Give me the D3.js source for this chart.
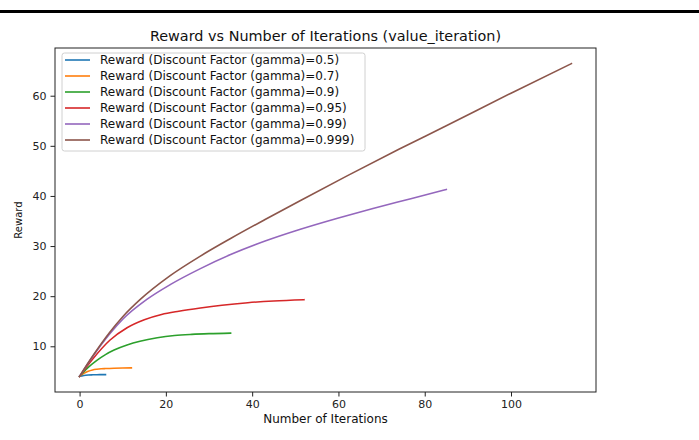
<!DOCTYPE html>
<html>
<head>
<meta charset="utf-8">
<script src="https://cdn.jsdelivr.net/npm/d3@7"></script>
<style>
  html, body { margin: 0; padding: 0; background: #fff; }
  svg { display: block; font-family: "DejaVu Sans", sans-serif; }
</style>
</head>
<body>
<svg id="chart" width="699" height="440"></svg>
<script>
// Reward per iteration for each discount factor
const gammas = ["0.5", "0.7", "0.9", "0.95", "0.99", "0.999"];
const colors = ["#1f77b4", "#ff7f0e", "#2ca02c", "#d62728", "#9467bd", "#8c564b"];

const iters05  = [0, 1, 2, 3, 4, 5, 6];
const reward05 = [4.0, 4.18, 4.27, 4.31, 4.33, 4.34, 4.35];

const iters07  = [0, 1, 2, 3, 4, 5, 6, 8, 10, 12];
const reward07 = [4.0, 4.6, 5.02, 5.28, 5.42, 5.51, 5.56, 5.63, 5.67, 5.69];

const iters09  = [0, 2, 4, 6, 8, 11, 14, 18, 22, 26, 30, 35];
const reward09 = [4.0, 5.8, 7.2, 8.35, 9.25, 10.25, 11.0, 11.7, 12.15, 12.38, 12.52, 12.62];

const iters095  = [0, 3, 7, 11, 15, 19, 23, 28, 33, 39, 45, 52];
const reward095 = [4.0, 7.4, 11.2, 13.7, 15.3, 16.35, 17.0, 17.65, 18.2, 18.7, 19.05, 19.3];

const iters099  = [0, 3, 7, 10, 15.5, 21, 28, 35, 43, 51, 60, 68, 77, 85];
const reward099 = [4.0, 7.9, 12.5, 15.4, 19.3, 22.3, 25.5, 28.3, 31.0, 33.3, 35.6, 37.5, 39.5, 41.3];

const iters0999  = [0, 3, 7, 10, 14, 21, 28, 35, 43, 51, 62, 74, 85, 100, 114];
const reward0999 = [4.0, 8.0, 12.8, 15.9, 19.3, 24.1, 28.0, 31.5, 35.3, 39.0, 44.0, 49.3, 54.0, 60.5, 66.4];

const xTicks = [0, 20, 40, 60, 80, 100];
const yTicks = [10, 20, 30, 40, 50, 60];

const seriesIters = [iters05, iters07, iters09, iters095, iters099, iters0999];
const seriesRewards = [reward05, reward07, reward09, reward095, reward099, reward0999];

const series = gammas.map((g, i) => ({
  label: `Reward (Discount Factor (gamma)=${g})`,
  color: colors[i],
  points: seriesIters[i].map((x, j) => ({ x, y: seriesRewards[i][j] }))
}));

const svg = d3.select("#chart");
const W = 699;

// separator bar across the top
svg.append("rect").attr("x", 0).attr("y", 10).attr("width", W).attr("height", 3).attr("fill", "#000");

const plot = { left: 55, right: 596, top: 48, bottom: 392 };

// padded extents, 5% on each side
const allX = series.flatMap(s => s.points.map(p => p.x));
const allY = series.flatMap(s => s.points.map(p => p.y));
const [x0, x1] = d3.extent(allX);
const [y0, y1] = d3.extent(allY);
const px = (x1 - x0) * 0.05, py = (y1 - y0) * 0.05;

const x = d3.scaleLinear().domain([x0 - px, x1 + px]).range([plot.left, plot.right]);
const y = d3.scaleLinear().domain([y0 - py, y1 + py]).range([plot.bottom, plot.top]);

// lines
const line = d3.line().x(d => x(d.x)).y(d => y(d.y)).curve(d3.curveMonotoneX);
const g = svg.append("g");
series.forEach(s => {
  g.append("path").datum(s.points)
    .attr("d", line)
    .attr("fill", "none")
    .attr("stroke", s.color)
    .attr("stroke-width", 1.6)
    .attr("stroke-linejoin", "round")
    .attr("stroke-linecap", "square");
});

// frame
svg.append("rect")
  .attr("x", plot.left).attr("y", plot.top)
  .attr("width", plot.right - plot.left).attr("height", plot.bottom - plot.top)
  .attr("fill", "none").attr("stroke", "#222").attr("stroke-width", 1);

// axes
const xAxis = d3.axisBottom(x).tickValues(xTicks).tickSize(4.5).tickPadding(4);
const yAxis = d3.axisLeft(y).tickValues(yTicks).tickSize(4.5).tickPadding(4);

const gx = svg.append("g").attr("transform", `translate(0,${plot.bottom})`).call(xAxis);
const gy = svg.append("g").attr("transform", `translate(${plot.left},0)`).call(yAxis);
[gx, gy].forEach(a => {
  a.select(".domain").remove();
  a.selectAll(".tick line").attr("stroke", "#222");
  a.selectAll(".tick text").attr("fill", "#222").style("font-size", "11px")
    .style("font-family", "'DejaVu Sans', sans-serif");
});

// title and axis labels
svg.append("text")
  .attr("x", (plot.left + plot.right) / 2).attr("y", 41)
  .attr("text-anchor", "middle")
  .style("font-size", "14.4px").attr("fill", "#111")
  .text("Reward vs Number of Iterations (value_iteration)");

svg.append("text")
  .attr("x", (plot.left + plot.right) / 2).attr("y", 423)
  .attr("text-anchor", "middle")
  .style("font-size", "12px").attr("fill", "#111")
  .text("Number of Iterations");

svg.append("text")
  .attr("transform", `translate(22,${(plot.top + plot.bottom) / 2}) rotate(-90)`)
  .attr("text-anchor", "middle")
  .style("font-size", "10px").attr("fill", "#111")
  .text("Reward");

// legend
const leg = svg.append("g").attr("transform", "translate(62,53)");
leg.append("rect")
  .attr("x", 0).attr("y", 0).attr("width", 303).attr("height", 98)
  .attr("rx", 2.5).attr("fill", "#fff").attr("fill-opacity", 0.8)
  .attr("stroke", "#d0d0d0").attr("stroke-width", 1);
series.forEach((s, i) => {
  const cy = 7 + i * 16;
  leg.append("line").attr("x1", 3).attr("x2", 28).attr("y1", cy).attr("y2", cy)
    .attr("stroke", s.color).attr("stroke-width", 1.6);
  leg.append("text").attr("x", 38).attr("y", cy).attr("dy", "0.36em")
    .style("font-size", "12px").attr("fill", "#111").text(s.label);
});
</script>
</body>
</html>
